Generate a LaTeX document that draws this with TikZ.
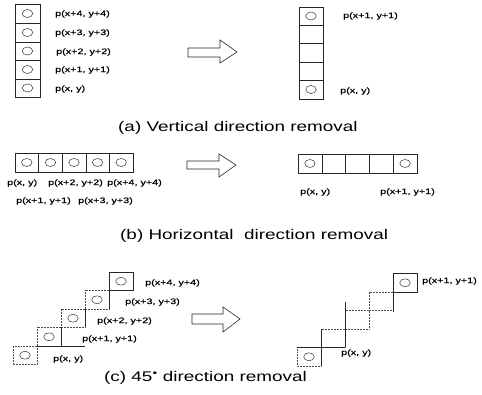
\documentclass[tikz,border=0pt]{standalone}
\usepackage{fontspec}
\setmainfont{Liberation Sans}[FakeStretch=1.35]
\newfontfamily\lblfont{Liberation Sans}[FakeStretch=1.35, FakeBold=0.4]
\usepackage{tikz}
\usetikzlibrary{positioning, shapes.geometric}

\tikzset{
  cellbox/.style={draw=black!85, line width=0.6pt},
  gapbox/.style={draw=black!70, line width=0.5pt, densely dotted},
  pixdot/.style={draw=black!80, line width=0.5pt, ellipse, minimum width=10.5pt, minimum height=8pt, inner sep=0pt},
  lbl/.style={font=\lblfont\fontsize{8}{9}\selectfont, anchor=west, inner sep=0pt},
  capt/.style={font=\fontsize{14}{16}\selectfont, anchor=west, inner sep=0pt},
  blockarrow/.style={draw=black!85, line width=0.6pt, line join=miter}
}

\begin{document}
\begin{tikzpicture}[x=1pt, y=-1pt]
  \useasboundingbox (0,0) rectangle (482,395);

  % --- Panel (a): vertical ---
  % Left column, five cells
  \draw[cellbox] (15,4) rectangle (40,23);
  \draw[cellbox] (15,23) rectangle (40,42);
  \draw[cellbox] (15,42) rectangle (40,60);
  \draw[cellbox] (15,60) rectangle (40,79);
  \draw[cellbox] (15,79) rectangle (40,97);
  \node[pixdot] (a4) at (27.5,13.5) {};
  \node[pixdot] (a3) at (27.5,32.5) {};
  \node[pixdot] (a2) at (27.5,51) {};
  \node[pixdot] (a1) at (27.5,69.5) {};
  \node[pixdot] (a0) at (27.5,88) {};
  \node[lbl] (la4) at (55,14) {p(x+4, y+4)};
  \node[lbl] (la3) at (55,33) {p(x+3, y+3)};
  \node[lbl] (la2) at (56,52) {p(x+2, y+2)};
  \node[lbl] (la1) at (55,70) {p(x+1, y+1)};
  \node[lbl] (la0) at (55,89) {p(x, y)};
  % Arrow
  \draw[blockarrow] (188,48) -- (220,48) -- (220,40) -- (237,52) -- (220,63) -- (220,57) -- (188,57) -- cycle;
  % Right column, ends kept
  \draw[cellbox] (299,7) rectangle (323,25);
  \draw[cellbox] (299,25) rectangle (323,43);
  \draw[cellbox] (299,43) rectangle (323,62);
  \draw[cellbox] (299,62) rectangle (323,80);
  \draw[cellbox] (299,80) rectangle (323,99);
  \node[pixdot] (ra1) at (311,16) {};
  \node[pixdot] (ra0) at (311,89.5) {};
  \node[lbl] (lra1) at (343,16) {p(x+1, y+1)};
  \node[lbl] (lra0) at (340,91) {p(x, y)};
  \node[capt] (capa) at (118,128) {(a) Vertical direction removal};

  % --- Panel (b): horizontal ---
  \draw[cellbox] (15,153) rectangle (38.6,172);
  \draw[cellbox] (38.6,153) rectangle (62.2,172);
  \draw[cellbox] (62.2,153) rectangle (85.8,172);
  \draw[cellbox] (85.8,153) rectangle (109.4,172);
  \draw[cellbox] (109.4,153) rectangle (133,172);
  \node[pixdot] (b0) at (26.8,162.5) {};
  \node[pixdot] (b1) at (50.4,162.5) {};
  \node[pixdot] (b2) at (74,162.5) {};
  \node[pixdot] (b3) at (97.6,162.5) {};
  \node[pixdot] (b4) at (121.2,162.5) {};
  \node[lbl] (lb0) at (7,183) {p(x, y)};
  \node[lbl] (lb2) at (48,183) {p(x+2, y+2)};
  \node[lbl] (lb4) at (107,183) {p(x+4, y+4)};
  \node[lbl] (lb1) at (16,201) {p(x+1, y+1)};
  \node[lbl] (lb3) at (78,201) {p(x+3, y+3)};
  % Arrow
  \draw[blockarrow] (187,161) -- (219,161) -- (219,154) -- (236,165) -- (219,177) -- (219,169) -- (187,169) -- cycle;
  % Right row, ends kept
  \draw[cellbox] (298,154) rectangle (321.8,173);
  \draw[cellbox] (321.8,154) rectangle (345.6,173);
  \draw[cellbox] (345.6,154) rectangle (369.4,173);
  \draw[cellbox] (369.4,154) rectangle (393.2,173);
  \draw[cellbox] (393.2,154) rectangle (417,173);
  \node[pixdot] (rb0) at (309.9,163.5) {};
  \node[pixdot] (rb1) at (405.1,163.5) {};
  \node[lbl] (lrb0) at (300,192) {p(x, y)};
  \node[lbl] (lrb1) at (380,192) {p(x+1, y+1)};
  \node[capt] (capb) at (120,236) {(b) Horizontal\ \ direction removal};

  % --- Panel (c): 45 degree ---
  \draw[gapbox] (13,346) rectangle (37,364.5);
  \draw[gapbox] (37,327.5) rectangle (61,346);
  \draw[gapbox] (61,309) rectangle (85,327.5);
  \draw[gapbox] (85,290.5) rectangle (109,309);
  \draw[cellbox] (109,272) rectangle (133,290.5);
  \draw[cellbox] (37,346) -- (85,346) (61,346) -- (61,327.5);
  \draw[cellbox] (85,327.5) -- (85,309) (109,309) -- (109,290.5);
  \node[pixdot] (c0) at (25,355.2) {};
  \node[pixdot] (c1) at (49,336.8) {};
  \node[pixdot] (c2) at (73,318.2) {};
  \node[pixdot] (c3) at (97,299.8) {};
  \node[pixdot] (c4) at (121,281.2) {};
  \node[lbl] (lc4) at (145,283) {p(x+4, y+4)};
  \node[lbl] (lc3) at (125,302) {p(x+3, y+3)};
  \node[lbl] (lc2) at (97,321) {p(x+2, y+2)};
  \node[lbl] (lc1) at (82,339) {p(x+1, y+1)};
  \node[lbl] (lc0) at (53,359) {p(x, y)};
  % Arrow
  \draw[blockarrow] (192,314) -- (223,314) -- (223,307) -- (240,319) -- (223,332) -- (223,324) -- (192,324) -- cycle;
  % Right staircase, ends kept
  \draw[gapbox] (297,347.5) rectangle (321,366);
  \draw[gapbox] (321,329) rectangle (345,347.5);
  \draw[gapbox] (345,310.5) rectangle (369,329);
  \draw[gapbox] (369,292) rectangle (393,310.5);
  \draw[cellbox] (393,273.5) rectangle (417,292);
  \draw[cellbox] (297,347.5) -- (345,347.5);
  \draw[cellbox] (321,329) -- (321,366);
  \draw[cellbox] (345,302) -- (345,347.5);
  \draw[cellbox] (393,292) -- (393,312);
  \node[pixdot] (rc0) at (309,356.8) {};
  \node[pixdot] (rc1) at (405,282.8) {};
  \node[lbl] (lrc1) at (422,281) {p(x+1, y+1)};
  \node[lbl] (lrc0) at (341,353) {p(x, y)};
  \node[capt] (capc) at (104,378) {(c) 45\textsuperscript{\textbullet}\ direction removal};
\end{tikzpicture}
\end{document}
